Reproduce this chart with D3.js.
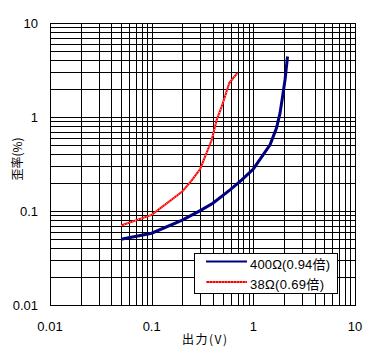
<!DOCTYPE html>
<html>
<head>
<meta charset="utf-8">
<script src="https://cdn.jsdelivr.net/npm/d3@7"></script>
<style>
  body { margin: 0; background: #fff; }
  svg text { font-family: "Liberation Sans Narrow", "Liberation Sans", "Noto Sans CJK JP", sans-serif; font-size: 13px; fill: #000; }
  .jp { font-family: "Noto Sans CJK JP", sans-serif; font-size: 12px; }
</style>
</head>
<body>
<div id="graphic"></div>
<script>
// tick values
const xTicks = [0.01, 0.1, 1, 10];
const yTicks = [0.01, 0.1, 1, 10];
const xTickLabels = ["0.01", "0.1", "1", "10"];
const yTickLabels = ["0.01", "0.1", "1", "10"];

// 400Ω series (output V, distortion %)
const blueX = [0.05, 0.1, 0.2, 0.3, 0.4, 0.59, 0.77, 1.0, 1.46, 1.69, 1.83, 1.94, 2.05, 2.17];
const blueY = [0.05, 0.058, 0.08, 0.101, 0.121, 0.168, 0.214, 0.28, 0.506, 0.762, 1.10, 1.65, 2.49, 4.4];

// 38Ω series
const redX = [0.05, 0.1, 0.2, 0.25, 0.3, 0.39, 0.436, 0.488, 0.526, 0.58, 0.634, 0.695];
const redY = [0.07, 0.091, 0.161, 0.214, 0.28, 0.572, 0.933, 1.29, 1.65, 2.3, 2.59, 2.93];

const legendLabels = ["400\u03A9(0.94倍)", "38\u03A9(0.69倍)"];
const xTitle = "出力(V)";
const yTitle = "歪率(%)";

const width = 384, height = 353;
const margin = { left: 50, right: 29, top: 23, bottom: 48 };

const svg = d3.select("#graphic").append("svg")
  .attr("width", width).attr("height", height);

const x = d3.scaleLog().domain([0.01, 10]).range([margin.left, width - margin.right]);
const y = d3.scaleLog().domain([0.01, 10]).range([height - margin.bottom, margin.top]);

const crisp = v => Math.round(v) + 0.5;

// minor + major grid values
const gridVals = [];
[0.01, 0.1, 1].forEach(d => { for (let k = 1; k < 10; k++) gridVals.push(d * k); });
gridVals.push(10);

const grid = svg.append("g").attr("stroke", "#000").attr("stroke-width", 1).attr("shape-rendering", "crispEdges");
grid.selectAll("line.v").data(gridVals).join("line").attr("class", "v")
  .attr("x1", d => crisp(x(d))).attr("x2", d => crisp(x(d)))
  .attr("y1", y(10)).attr("y2", y(0.01) + 0.5);
grid.selectAll("line.h").data(gridVals).join("line").attr("class", "h")
  .attr("y1", d => crisp(y(d))).attr("y2", d => crisp(y(d)))
  .attr("x1", x(0.01)).attr("x2", x(10) + 0.5);

// tick labels
svg.append("g").selectAll("text").data(yTicks).join("text")
  .attr("x", 38).attr("y", d => y(d) + 5)
  .attr("text-anchor", "end")
  .text((d, i) => yTickLabels[i]);

svg.append("g").selectAll("text").data(xTicks).join("text")
  .attr("x", d => x(d)).attr("y", 331)
  .attr("text-anchor", "middle")
  .text((d, i) => xTickLabels[i]);

// axis titles
svg.append("text").attr("class", "jp")
  .attr("x", 182).attr("y", 344).attr("textLength", 45).attr("lengthAdjust", "spacing").text(xTitle);
svg.append("text").attr("class", "jp")
  .attr("transform", "translate(22,159) rotate(-90)")
  .attr("text-anchor", "middle").text(yTitle);

// series
const line = d3.line().x(d => x(d[0])).y(d => y(d[1]));
const blueData = blueX.map((v, i) => [v, blueY[i]]);
const redData = redX.map((v, i) => [v, redY[i]]);

svg.append("path").attr("d", line(redData))
  .attr("fill", "none").attr("stroke", "#ff0000").attr("stroke-width", 2);
svg.append("path").attr("d", line(redData))
  .attr("fill", "none").attr("stroke", "#fff").attr("stroke-width", 0.7).attr("stroke-dasharray", "1,2");
svg.append("path").attr("d", line(blueData))
  .attr("fill", "none").attr("stroke", "#000080").attr("stroke-width", 3);

// legend
const lg = svg.append("g");
lg.append("rect").attr("x", 194.5).attr("y", 253.5).attr("width", 143).attr("height", 40)
  .attr("fill", "#fff").attr("stroke", "#000").attr("stroke-width", 1);
lg.append("line").attr("x1", 206).attr("x2", 247).attr("y1", 261.5).attr("y2", 261.5)
  .attr("stroke", "#000080").attr("stroke-width", 2);
lg.append("line").attr("x1", 206).attr("x2", 247).attr("y1", 282).attr("y2", 282)
  .attr("stroke", "#ff0000").attr("stroke-width", 2);
lg.append("line").attr("x1", 206).attr("x2", 247).attr("y1", 282).attr("y2", 282)
  .attr("stroke", "#fff").attr("stroke-width", 0.7).attr("stroke-dasharray", "1,2");
lg.selectAll("text").data(legendLabels).join("text")
  .attr("x", 250).attr("y", (d, i) => i ? 288.5 : 269)
  .attr("textLength", (d, i) => i ? 74 : 80).attr("lengthAdjust", "spacing")
  .text(d => d);
</script>
</body>
</html>
